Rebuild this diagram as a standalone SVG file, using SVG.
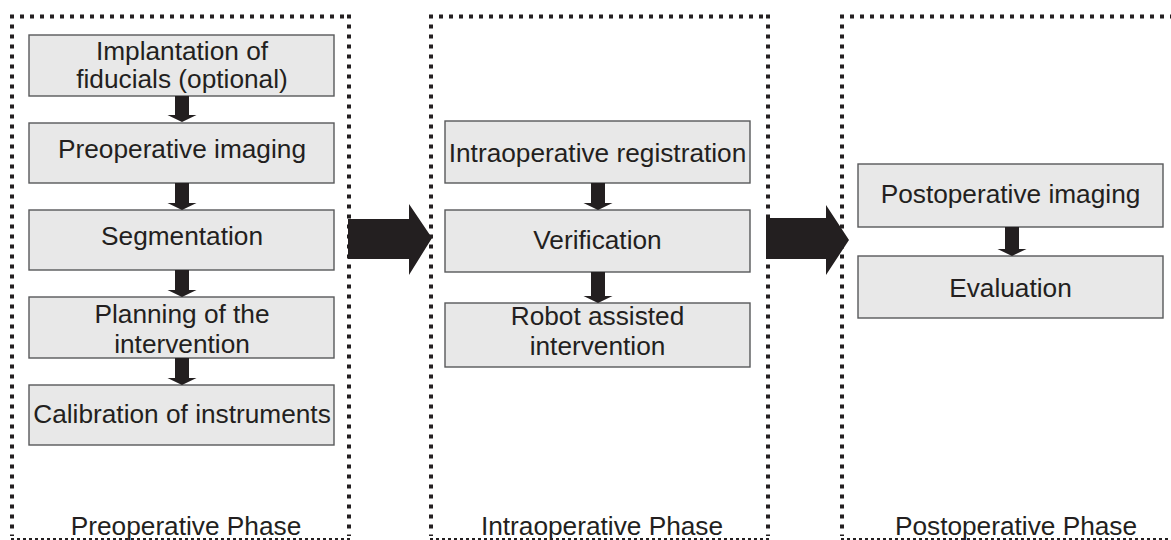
<svg xmlns="http://www.w3.org/2000/svg" width="1171" height="540" viewBox="0 0 1171 540">
  <style>
    .frame { fill: none; stroke: #231f20; stroke-width: 4; stroke-dasharray: 4 6; }
    .frame-base { fill: none; stroke: #231f20; stroke-width: 2; stroke-dasharray: 3 3; }
    .step { fill: #e8e8e8; stroke: #58595b; stroke-width: 1.4; }
    .lbl { font-family: "Liberation Sans", Arial, sans-serif; font-size: 25px; fill: #231f20; text-anchor: middle; }
    .flow { fill: #231f20; }
  </style>
  <rect width="1171" height="540" fill="#ffffff"/>

  <!-- phase frames -->
  <g id="phase-pre">
    <path class="frame" d="M10 16.5 H351 M12 14.5 V536 M349 14.5 V536"/>
    <line class="frame-base" x1="11" y1="539" x2="350" y2="539"/>
    <text class="lbl" transform="translate(186,535) scale(1.05,1)">Preoperative Phase</text>
  </g>
  <g id="phase-intra">
    <path class="frame" d="M429 16.5 H770 M431 14.5 V536 M768 14.5 V536"/>
    <line class="frame-base" x1="430" y1="539" x2="769" y2="539"/>
    <text class="lbl" transform="translate(602,535) scale(1.05,1)">Intraoperative Phase</text>
  </g>
  <g id="phase-post">
    <path class="frame" d="M840 16.5 H1175 M842 14.5 V536"/>
    <line class="frame-base" x1="841" y1="539" x2="1171" y2="539"/>
    <text class="lbl" transform="translate(1016,535) scale(1.05,1)">Postoperative Phase</text>
  </g>

  <!-- preoperative steps -->
  <g id="n-fiducials">
    <rect class="step" x="29" y="35" width="305" height="61"/>
    <text class="lbl" transform="translate(182,60) scale(1.05,1)">Implantation of</text>
    <text class="lbl" transform="translate(182,88) scale(1.05,1)">fiducials (optional)</text>
  </g>
  <g id="n-preimaging">
    <rect class="step" x="29" y="123" width="305" height="60"/>
    <text class="lbl" transform="translate(182,158) scale(1.05,1)">Preoperative imaging</text>
  </g>
  <g id="n-segmentation">
    <rect class="step" x="29" y="210" width="305" height="60"/>
    <text class="lbl" transform="translate(182,245) scale(1.05,1)">Segmentation</text>
  </g>
  <g id="n-planning">
    <rect class="step" x="29" y="297" width="305" height="61"/>
    <text class="lbl" transform="translate(182,323) scale(1.05,1)">Planning of the</text>
    <text class="lbl" transform="translate(182,353) scale(1.05,1)">intervention</text>
  </g>
  <g id="n-calibration">
    <rect class="step" x="29" y="385" width="305" height="60"/>
    <text class="lbl" transform="translate(182,423) scale(1.05,1)">Calibration of instruments</text>
  </g>

  <!-- intraoperative steps -->
  <g id="n-registration">
    <rect class="step" x="445" y="121" width="305" height="62"/>
    <text class="lbl" transform="translate(597.5,162) scale(1.05,1)">Intraoperative registration</text>
  </g>
  <g id="n-verification">
    <rect class="step" x="445" y="210" width="305" height="62"/>
    <text class="lbl" transform="translate(597.5,249) scale(1.05,1)">Verification</text>
  </g>
  <g id="n-robot">
    <rect class="step" x="445" y="303" width="305" height="64"/>
    <text class="lbl" transform="translate(597.5,325) scale(1.05,1)">Robot assisted</text>
    <text class="lbl" transform="translate(597.5,355) scale(1.05,1)">intervention</text>
  </g>

  <!-- postoperative steps -->
  <g id="n-postimaging">
    <rect class="step" x="858" y="164" width="305" height="63"/>
    <text class="lbl" transform="translate(1010.5,203) scale(1.05,1)">Postoperative imaging</text>
  </g>
  <g id="n-evaluation">
    <rect class="step" x="858" y="256" width="305" height="62"/>
    <text class="lbl" transform="translate(1010.5,297) scale(1.05,1)">Evaluation</text>
  </g>

  <!-- connectors -->
  <g id="connectors">
    <polygon class="flow" points="348,219 409,219 409,204 432,238 409,275 409,259 348,259"/>
    <polygon class="flow" points="766,218 826,218 826,205 849,240 826,275 826,259 766,259"/>

    <polygon class="flow" points="175,96 189,96 189,115 196.5,115 182,122 167.5,115 175,115"/>
    <polygon class="flow" points="175,183 189,183 189,203 196.5,203 182,210 167.5,203 175,203"/>
    <polygon class="flow" points="175,270 189,270 189,290 196.5,290 182,297 167.5,290 175,290"/>
    <polygon class="flow" points="175,358 189,358 189,378 196.5,378 182,385 167.5,378 175,378"/>

    <polygon class="flow" points="591,183 605,183 605,203 612.5,203 598,210 583.5,203 591,203"/>
    <polygon class="flow" points="591,272 605,272 605,296 612.5,296 598,303 583.5,296 591,296"/>

    <polygon class="flow" points="1005,227 1019,227 1019,249 1026.5,249 1012,256 997.5,249 1005,249"/>
  </g>
</svg>
